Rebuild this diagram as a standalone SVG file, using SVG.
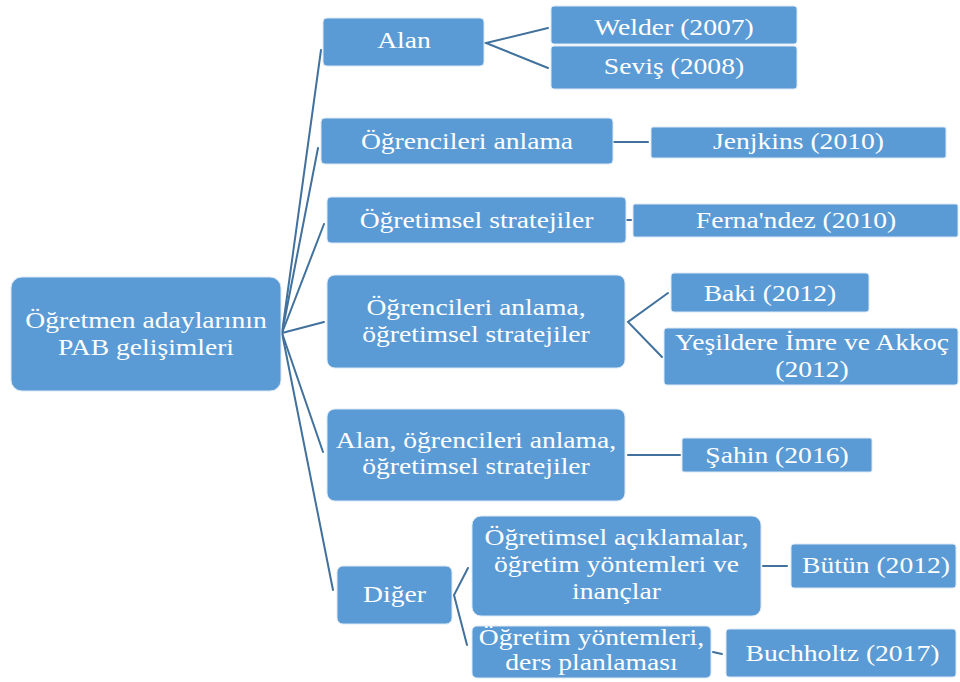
<svg xmlns="http://www.w3.org/2000/svg" width="960" height="682" viewBox="0 0 960 682">
  <style>
    .box { fill: #5B9BD5; stroke: #DCE8F5; stroke-width: 1; }
    .t { font-family: "Liberation Serif", "Times New Roman", serif; font-size: 24px; fill: #FFFFFF; text-anchor: middle; }
    .c { stroke: #41719C; stroke-width: 2; fill: none; stroke-linecap: round; }
  </style>
  <rect width="960" height="682" fill="#FFFFFF"/>

  <!-- connectors -->
  <g id="connectors">
    <line class="c" x1="282" y1="333" x2="321" y2="50"/>
    <line class="c" x1="282" y1="333" x2="318" y2="148"/>
    <line class="c" x1="282" y1="333" x2="324" y2="224"/>
    <line class="c" x1="282" y1="333" x2="324" y2="322"/>
    <line class="c" x1="282" y1="333" x2="323" y2="452"/>
    <line class="c" x1="282" y1="333" x2="333" y2="590"/>
    <polyline class="c" points="548,28 486,43 548,68"/>
    <line class="c" x1="614" y1="142" x2="648" y2="142"/>
    <line class="c" x1="627" y1="220" x2="631" y2="220"/>
    <polyline class="c" points="668,293 628,322 662,357"/>
    <line class="c" x1="628" y1="455" x2="680" y2="455"/>
    <polyline class="c" points="468,568 454,595 467,645"/>
    <line class="c" x1="763" y1="566" x2="787" y2="566"/>
    <line class="c" x1="713" y1="652" x2="722" y2="654"/>
  </g>

  <!-- root -->
  <g id="root">
    <rect class="box" x="11" y="277" width="270" height="114" rx="11"/>
    <text class="t" transform="translate(146,0) scale(1.15,1)"><tspan x="0" y="328">Öğretmen adaylarının</tspan><tspan x="0" y="355">PAB gelişimleri</tspan></text>
  </g>

  <!-- first level -->
  <g id="alan">
    <rect class="box" x="323" y="18" width="161" height="48" rx="4"/>
    <text class="t" transform="translate(404,0) scale(1.15,1)" x="0" y="48">Alan</text>
  </g>
  <g id="ogrencileri-anlama">
    <rect class="box" x="321" y="118" width="292" height="46" rx="4"/>
    <text class="t" transform="translate(467,0) scale(1.15,1)" x="0" y="149">Öğrencileri anlama</text>
  </g>
  <g id="ogretimsel-stratejiler">
    <rect class="box" x="327" y="197" width="299" height="46" rx="4"/>
    <text class="t" transform="translate(476.5,0) scale(1.15,1)" x="0" y="228">Öğretimsel stratejiler</text>
  </g>
  <g id="anlama-stratejiler">
    <rect class="box" x="327" y="275" width="298" height="93" rx="8"/>
    <text class="t" transform="translate(476,0) scale(1.15,1)"><tspan x="0" y="315">Öğrencileri anlama,</tspan><tspan x="0" y="342">öğretimsel stratejiler</tspan></text>
  </g>
  <g id="alan-anlama-stratejiler">
    <rect class="box" x="327" y="409" width="298" height="92" rx="8"/>
    <text class="t" transform="translate(476,0) scale(1.15,1)"><tspan x="0" y="448">Alan, öğrencileri anlama,</tspan><tspan x="0" y="474">öğretimsel stratejiler</tspan></text>
  </g>
  <g id="diger">
    <rect class="box" x="337" y="566" width="115" height="58" rx="6"/>
    <text class="t" transform="translate(394.5,0) scale(1.15,1)" x="0" y="602">Diğer</text>
  </g>

  <!-- second level under Diğer -->
  <g id="aciklamalar">
    <rect class="box" x="472" y="516" width="289" height="100" rx="9"/>
    <text class="t" transform="translate(616.5,0) scale(1.15,1)"><tspan x="0" y="545">Öğretimsel açıklamalar,</tspan><tspan x="0" y="572">öğretim yöntemleri ve</tspan><tspan x="0" y="599">inançlar</tspan></text>
  </g>
  <g id="yontemler">
    <rect class="box" x="472" y="626" width="239" height="52" rx="5"/>
    <text class="t" transform="translate(591.5,0) scale(1.15,1)"><tspan x="0" y="645">Öğretim yöntemleri,</tspan><tspan x="0" y="670">ders planlaması</tspan></text>
  </g>

  <!-- sources -->
  <g id="welder">
    <rect class="box" x="551" y="6" width="246" height="38" rx="3"/>
    <text class="t" transform="translate(674,0) scale(1.15,1)" x="0" y="35">Welder (2007)</text>
  </g>
  <g id="sevis">
    <rect class="box" x="551" y="46" width="246" height="43" rx="3"/>
    <text class="t" transform="translate(674,0) scale(1.15,1)" x="0" y="74">Seviş (2008)</text>
  </g>
  <g id="jenjkins">
    <rect class="box" x="651" y="127" width="295" height="31" rx="2"/>
    <text class="t" transform="translate(798.5,0) scale(1.15,1)" x="0" y="149">Jenjkins (2010)</text>
  </g>
  <g id="fernandez">
    <rect class="box" x="633" y="204" width="325" height="33" rx="2"/>
    <text class="t" transform="translate(796,0) scale(1.15,1)" x="0" y="228">Ferna'ndez (2010)</text>
  </g>
  <g id="baki">
    <rect class="box" x="671" y="273" width="198" height="39" rx="3"/>
    <text class="t" transform="translate(770,0) scale(1.15,1)" x="0" y="301">Baki (2012)</text>
  </g>
  <g id="yesildere">
    <rect class="box" x="664" y="328" width="294" height="57" rx="3"/>
    <text class="t" transform="translate(812,0) scale(1.15,1)"><tspan x="0" y="350">Yeşildere İmre ve Akkoç</tspan><tspan x="0" y="377">(2012)</tspan></text>
  </g>
  <g id="sahin">
    <rect class="box" x="682" y="438" width="190" height="34" rx="2"/>
    <text class="t" transform="translate(777,0) scale(1.15,1)" x="0" y="463">Şahin (2016)</text>
  </g>
  <g id="butun">
    <rect class="box" x="791" y="544" width="165" height="44" rx="3"/>
    <text class="t" transform="translate(876,0) scale(1.15,1)" x="0" y="573">Bütün (2012)</text>
  </g>
  <g id="buchholtz">
    <rect class="box" x="726" y="629" width="230" height="48" rx="3"/>
    <text class="t" transform="translate(842.5,0) scale(1.15,1)" x="0" y="661">Buchholtz (2017)</text>
  </g>
</svg>
